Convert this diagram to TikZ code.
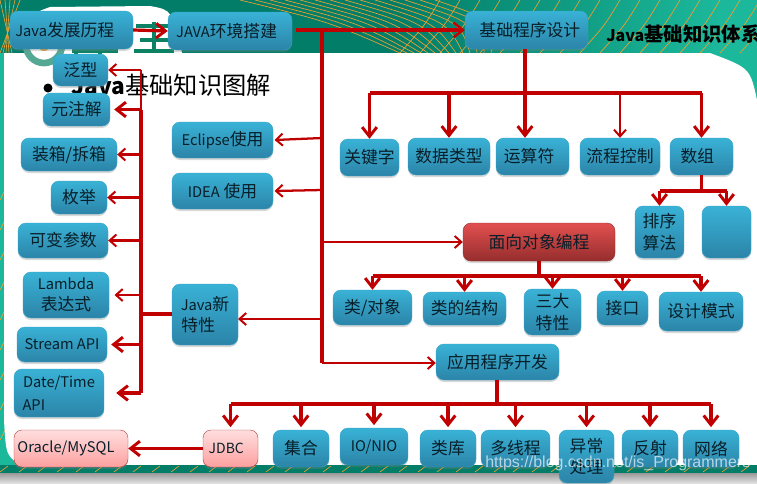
\documentclass[tikz,border=0pt]{standalone}
\usepackage{fontspec}
\setmainfont{Noto Sans CJK SC}
\newfontfamily\markfont{Liberation Sans}
\usetikzlibrary{arrows.meta,shadows,calc}
\definecolor{bandgreen}{RGB}{2,125,104}
\definecolor{lightgreen}{RGB}{28,184,155}
\definecolor{linkorange}{RGB}{236,160,50}
\definecolor{logogreen}{RGB}{12,130,100}
\definecolor{boxtop}{RGB}{57,178,214}
\definecolor{boxbottom}{RGB}{43,132,168}
\definecolor{redtop}{RGB}{226,80,80}
\definecolor{redbottom}{RGB}{150,45,45}
\definecolor{pinktop}{RGB}{255,222,222}
\definecolor{pinkbottom}{RGB}{253,160,160}
\definecolor{linkred}{RGB}{192,0,0}
\definecolor{inktext}{RGB}{8,30,40}
\tikzset{
    % Define standard node styles
    topicbox/.style={
        rectangle, rounded corners=6pt, top color=boxtop, bottom color=boxbottom,
        draw=boxtop!70!boxbottom, line width=0.3pt, text=inktext,
        font=\fontsize{12.6}{16}\selectfont, align=center, inner sep=0pt,
        drop shadow={shadow xshift=0pt, shadow yshift=-1.5pt, opacity=0.3}
    },
    redbox/.style={
        topicbox, top color=redtop, bottom color=redbottom, draw=redbottom
    },
    pinkbox/.style={
        topicbox, top color=pinktop, bottom color=pinkbottom, draw=redtop!80!black
    },
    heavyline/.style={
        draw=linkred, line width=2.4pt, line join=miter
    },
    thinline/.style={
        draw=linkred, line width=1.7pt, line join=miter
    },
    bigarrow/.style={
        heavyline, -{Straight Barb[length=7pt,width=11pt,line width=2.2pt]}
    },
    smallarrow/.style={
        thinline, -{Straight Barb[length=5pt,width=9pt,line width=1.5pt]}
    },
    bandcurve/.style={
        draw=linkorange, line width=0.5pt
    }
}
% latin words run a little smaller than the chinese
\newcommand{\lat}[1]{{\fontsize{11}{13}\selectfont #1}}
% box from its pixel extents: name, x0, y0, x1, y1, style, text
\newcommand{\topic}[7]{
    \node[#6, minimum width={(#4-#2)*0.75pt}, minimum height={(#5-#3)*0.75pt}]
        (#1) at ({(#2+#4)/2},{(#3+#5)/2}) {#7};
}
\begin{document}
\begin{tikzpicture}[x=0.75pt,y=-0.75pt]
\useasboundingbox (0,0) rectangle (757,483);
\begin{scope}
\clip (0,0) rectangle (757,483);

% slide behind the diagram
\fill[lightgreen] (0,0) rectangle (757,483);
\fill[bandgreen] (0,0) rectangle (400,53);
\shade[left color=bandgreen, right color=lightgreen] (400,0) rectangle (720,53);
\foreach \i in {0,1,...,13}
    \draw[bandcurve] ({240+\i*15},0) .. controls ({330+\i*13},22) .. ({400+\i*7},53);
\foreach \i in {0,1,...,18}
    \draw[bandcurve] ({440+\i*20},0) .. controls ({425+\i*20},25) .. ({400+\i*20},53);
\foreach \i in {0,1,...,4}
    \draw[bandcurve] ({\i*5},0) -- ({12-\i*3},53);
\foreach \i in {0,1,...,8}
    \draw[bandcurve] (0,{200+\i*30}) -- (5,{190+\i*30});
\fill[white] (4,53) -- (4,420) .. controls (6,455) .. (20,465) -- (757,465)
    -- (757,100) .. controls (750,68) .. (710,53) -- cycle;
\fill[white] (25,53) .. controls (28,15) .. (50,7) -- (150,6) .. controls (172,10) .. (182,53) -- cycle;
\fill[bandgreen] (0,465) rectangle (757,473);
\foreach \i in {0,1,...,40}
    \draw[bandcurve] ({\i*19},472) -- ({\i*19+8},466);
\shade[top color=gray!80, bottom color=gray!25] (0,473) rectangle (757,483);

% logo
\draw[logogreen!70, line width=5pt] (44,45) circle (18);
\fill[linkorange] (44,45) circle (6);
\draw[logogreen, line width=2.5pt] (72,51) -- (118,51) (76,46) -- (76,54) (100,44) -- (100,54);
\draw[logogreen, line width=2.5pt] (136,26) -- (172,26) (154,22) -- (154,50) (140,40) -- (172,40) (134,51) -- (174,51);

\node[font=\fontsize{18}{20}\selectfont\bfseries, anchor=west, text=black, inner sep=0pt] (pagetitle) at (71,85) {\fontsize{17}{20}\selectfont Java\fontsize{18.2}{20}\selectfont\mdseries 基础知识图解};
\node[font=\fontsize{14.5}{16}\selectfont\bfseries, anchor=west, text=black, inner sep=0pt] (decktitle) at (606,34) {\fontsize{12}{16}\selectfont Java\fontsize{14.5}{16}\selectfont 基础知识体系};
\fill[black] (48,88) circle (4.5);
\end{scope}

% top row
\topic{history}{10}{11}{133}{49}{topicbox}{\hspace*{-0.8em}\lat{Java}发展历程}
\topic{setup}{168}{12}{292}{50}{topicbox}{\hspace*{-0.4em}\lat{JAVA}环境搭建}
\topic{basics}{465}{11}{588}{49}{topicbox}{\hspace*{0.4em}基础程序设计}

% new features column
\topic{generic}{53}{54}{108}{86}{topicbox}{泛型}
\topic{annot}{43}{93}{110}{126}{topicbox}{元注解}
\topic{boxing}{21}{138}{117}{171}{topicbox}{装箱/拆箱}
\topic{enums}{51}{181}{107}{214}{topicbox}{枚举}
\topic{varargs}{18}{223}{108}{258}{topicbox}{可变参数}
\topic{lambda}{23}{272}{109}{318}{topicbox}{\lat{Lambda}\\表达式}
\topic{stream}{17}{327}{107}{362}{topicbox}{\lat{Stream API}}
\topic{datetime}{14}{369}{104}{417}{topicbox}{\lat{Date/Time}\\[1pt]\hspace*{-3em}\lat{API}}
\topic{oracle}{14}{430}{128}{467}{pinkbox}{\hspace*{-0.6em}\lat{Oracle/MySQL}}

% tools and features
\topic{eclipse}{172}{122}{273}{158}{topicbox}{\lat{Eclipse}使用}
\topic{idea}{172}{173}{273}{209}{topicbox}{\lat{IDEA} 使用}
\topic{newfeat}{172}{284}{238}{345}{topicbox}{\lat{Java}新\\特性\hspace*{0.8em}}

% basics children
\topic{keyword}{340}{139}{399}{176}{topicbox}{关键字}
\topic{datatype}{408}{138}{490}{175}{topicbox}{数据类型}
\topic{operator}{496}{138}{569}{175}{topicbox}{运算符\hspace*{0.4em}}
\topic{flow}{580}{138}{660}{175}{topicbox}{流程控制}
\topic{array}{670}{138}{733}{175}{topicbox}{数组\hspace*{0.5em}}
\topic{sorting}{635}{206}{684}{258}{topicbox}{排序\\算法}
\topic{blank}{702}{206}{751}{258}{topicbox}{}

% object oriented children
\topic{oop}{463}{223}{615}{261}{redbox}{面向对象编程}
\topic{classobj}{333}{290}{412}{325}{topicbox}{类/对象}
\topic{structure}{423}{292}{506}{325}{topicbox}{类的结构}
\topic{traits}{524}{289}{581}{335}{topicbox}{三大\\特性}
\topic{iface}{597}{291}{648}{325}{topicbox}{接口}
\topic{patterns}{659}{292}{743}{331}{topicbox}{设计模式}

% application children
\topic{appdev}{436}{344}{559}{380}{topicbox}{应用程序开发}
\topic{jdbc}{203}{430}{258}{467}{pinkbox}{\hspace*{-0.5em}{\fontsize{10.5}{13}\selectfont JDBC}}
\topic{collect}{273}{430}{329}{467}{topicbox}{集合}
\topic{ionio}{340}{428}{408}{465}{topicbox}{\lat{IO/NIO}}
\topic{library}{420}{430}{476}{467}{topicbox}{类库}
\topic{threads}{481}{430}{550}{467}{topicbox}{多线程}
\topic{except}{559}{430}{614}{483}{topicbox}{异常\\处理}
\topic{reflect}{622}{430}{678}{467}{topicbox}{反射}
\topic{network}{683}{430}{739}{467}{topicbox}{网络}

% bus corners
\coordinate (trunktop) at (322,30);
\coordinate (trunkend) at (322,363);
\coordinate (featbus) at (141,314);
\coordinate (featin) at (238,319);
\coordinate (basicbus) at (525,93);
\coordinate (arraybus) at (701,191);
\coordinate (oopbus) at (539,276);
\coordinate (appbus) at (497,404);

% main trunk
\draw[bigarrow] (history.east) -- (setup.west);
\draw[heavyline,-{Straight Barb[length=7pt,width=11pt,line width=1.8pt]}] (setup.east |- trunktop) ++(4,0) -- (basics.west |- trunktop);
\draw[heavyline] (trunktop) -- (trunkend);
\draw[smallarrow] (trunktop |- 0,138) -- ([xshift=1]eclipse.east);
\draw[smallarrow] (trunktop |- 0,190) -- ([xshift=1]idea.east);
\draw[smallarrow] (trunktop |- featin) -- (featin);
\draw[smallarrow] (trunktop |- oop.west) -- (oop.west);
\draw[smallarrow] (trunkend) -- (appdev.west |- trunkend);

% basics
\draw[heavyline] (basics.south -| basicbus) -- (basicbus);
\draw[heavyline] (keyword.north |- basicbus) -- (array.north |- basicbus);
\draw[bigarrow] (keyword.north |- basicbus) -- (keyword.north);
\draw[bigarrow] (datatype.north |- basicbus) -- (datatype.north);
\draw[bigarrow] (basicbus) -- (basicbus |- operator.north);
\draw[smallarrow] (flow.north |- basicbus) -- (flow.north);
\draw[bigarrow] (array.north |- basicbus) -- (array.north);
\draw[heavyline] (array.south) -- (array.south |- arraybus);
\draw[heavyline] (sorting.north |- arraybus) -- (blank.north |- arraybus);
\draw[bigarrow] (sorting.north |- arraybus) -- (sorting.north);
\draw[bigarrow] (blank.north |- arraybus) -- (blank.north);

% object oriented
\draw[heavyline] (oop.south -| oopbus) -- (oopbus);
\draw[heavyline] (classobj.north |- oopbus) -- (patterns.north |- oopbus);
\foreach \n in {classobj,structure,traits,iface,patterns}
    \draw[bigarrow] (\n.north |- oopbus) -- (\n.north);

% application
\draw[heavyline] (appdev.south -| appbus) -- (appbus);
\draw[heavyline] (jdbc.north |- appbus) -- (network.north |- appbus);
\foreach \n in {jdbc,collect,ionio,library,threads,except,reflect,network}
    \draw[bigarrow] (\n.north |- appbus) -- ([yshift=2]\n.north);
\draw[bigarrow] (jdbc.west) -- (oracle.east);

% new features
\draw[heavyline] (newfeat.west |- featbus) -- (featbus);
\draw[thinline] (featbus |- generic.east) -- (featbus |- annot.east);
\draw[heavyline] (featbus |- annot.east) -- (featbus |- datetime.east);
\draw[smallarrow] (featbus |- generic.east) -- (generic.east);
\draw[bigarrow] (featbus |- annot.east) -- ([xshift=3]annot.east);
\draw[smallarrow] (featbus |- boxing.east) -- (boxing.east);
\draw[smallarrow] (featbus |- enums.east) -- (enums.east);
\draw[smallarrow] (featbus |- varargs.east) -- (varargs.east);
\draw[smallarrow] (featbus |- lambda.east) -- ([xshift=4]lambda.east);
\draw[bigarrow] (featbus |- stream.east) -- ([xshift=3]stream.east);
\draw[bigarrow] (featbus |- datetime.east) -- ([xshift=9]datetime.east);

% watermark
\node[font=\markfont\fontsize{12}{14}\selectfont, text=white, opacity=0.65, anchor=west, inner sep=0pt] (watermark) at (485,463) {https://blog.csdn.net/is\_Programmers};
\end{tikzpicture}
\end{document}
